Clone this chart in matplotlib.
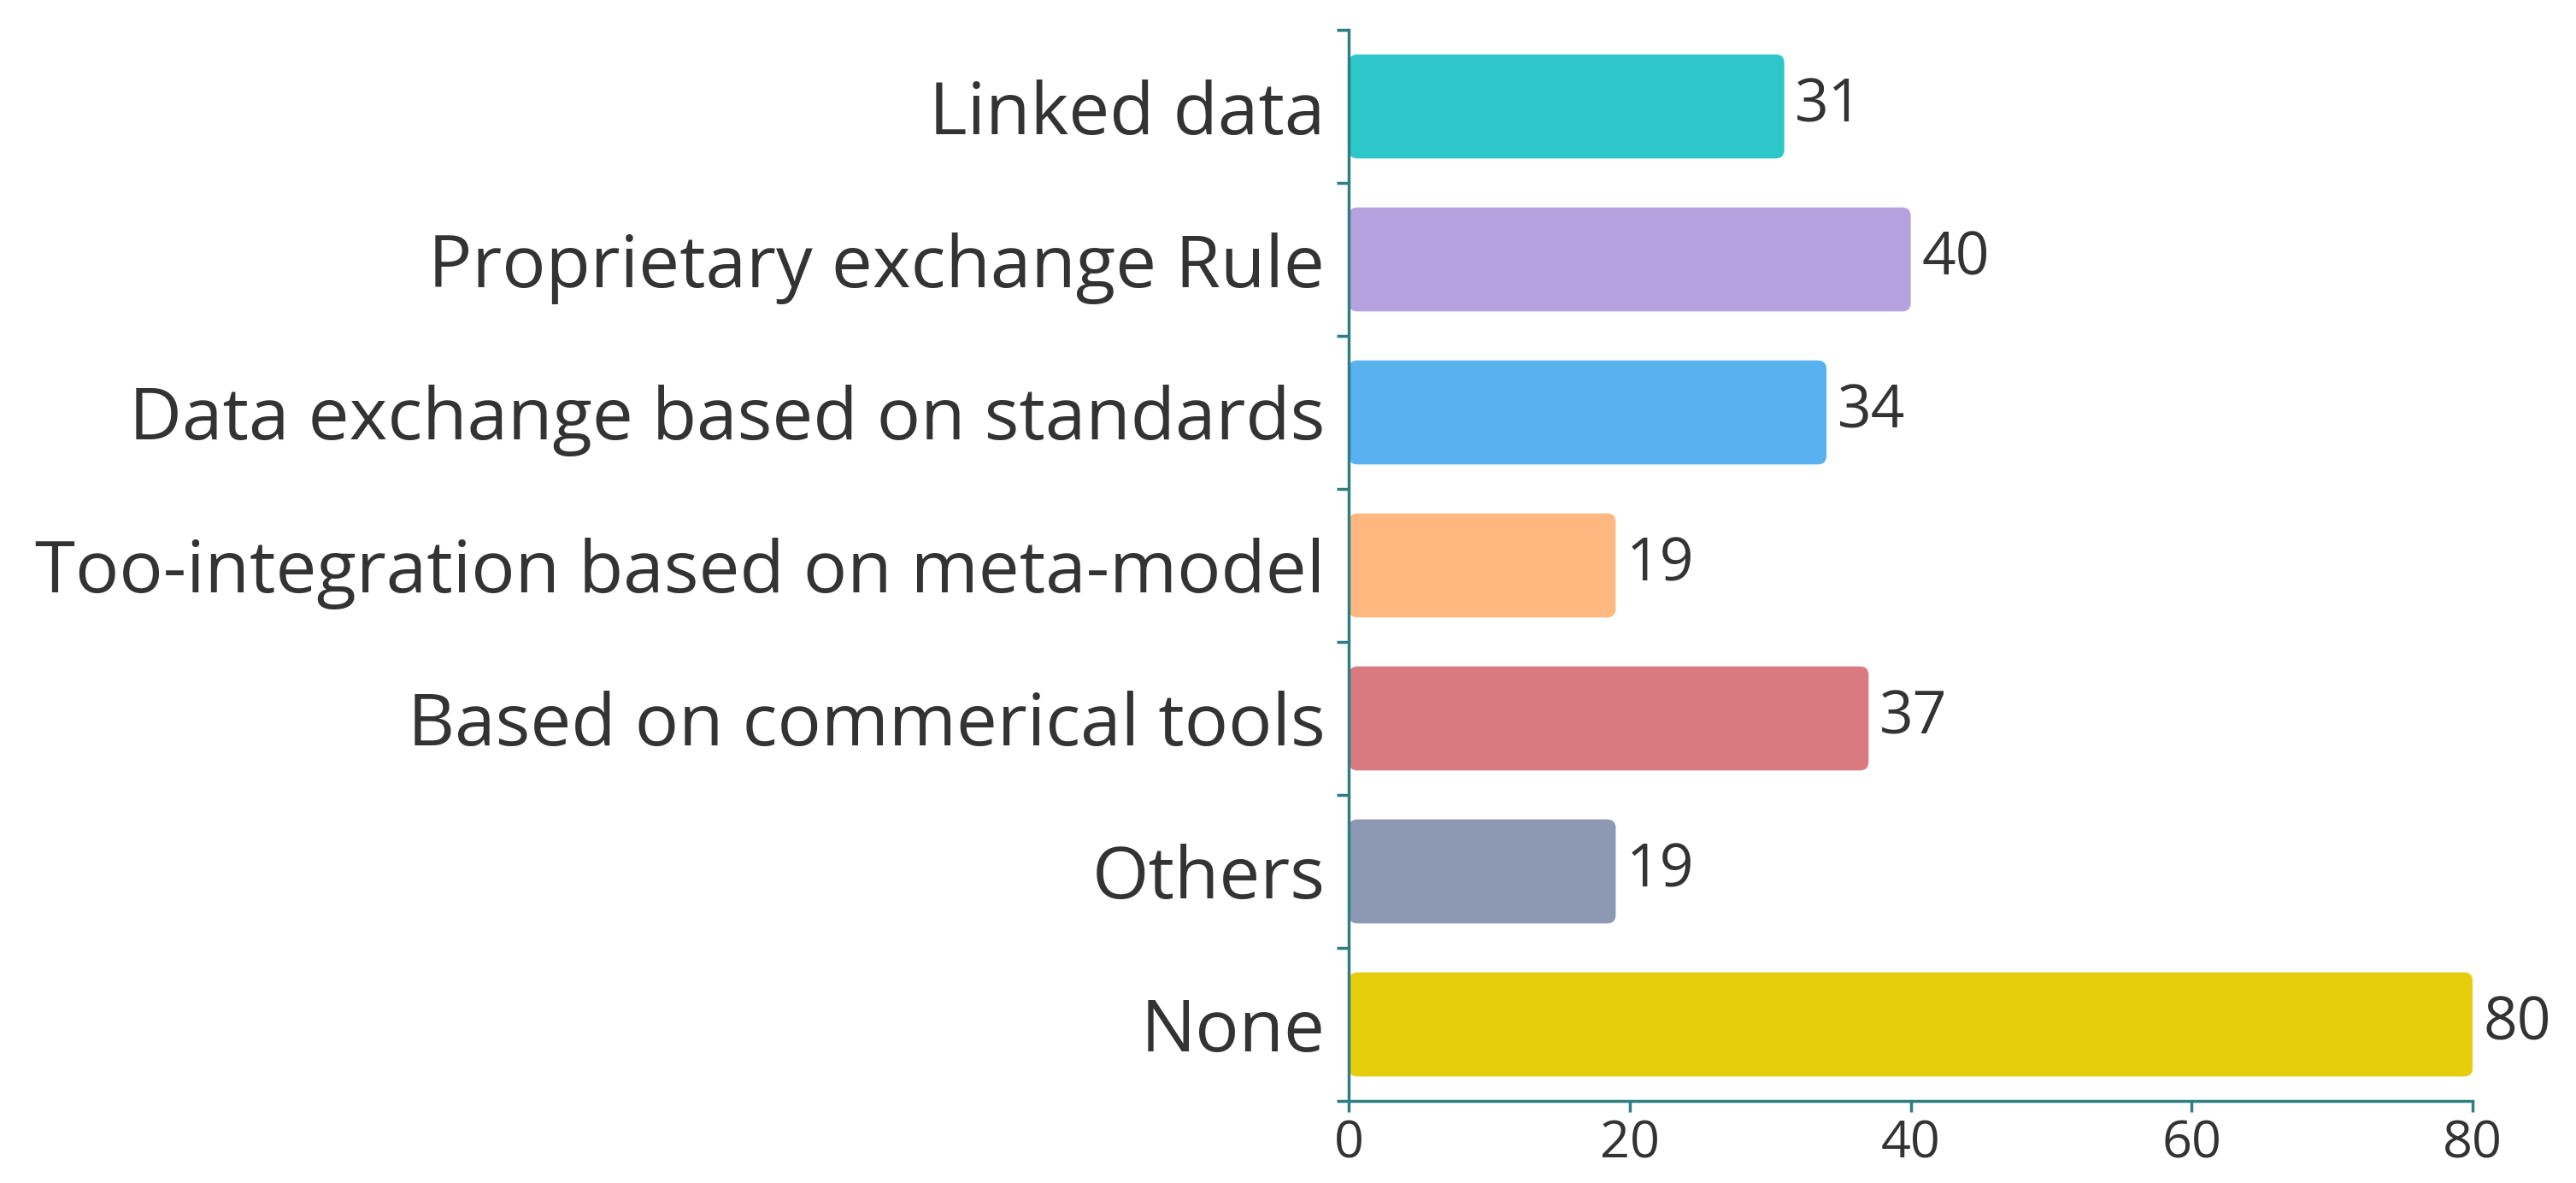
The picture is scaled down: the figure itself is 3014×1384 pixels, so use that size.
import matplotlib

matplotlib.use("Agg")
import matplotlib.pyplot as plt
from matplotlib.patches import FancyBboxPatch

# data, top to bottom as in the chart
categories = [
    "Linked data",
    "Proprietary exchange Rule",
    "Data exchange based on standards",
    "Too-integration based on meta-model",
    "Based on commerical tools",
    "Others",
    "None",
]
counts = [31, 40, 34, 19, 37, 19, 80]
colors = ["#2ec7c9", "#b6a2de", "#5ab1ef", "#ffb980", "#d87a80", "#8d98b3", "#e5cf0d"]
x_ticks = [0, 20, 40, 60, 80]

AXIS_COLOR = "#2f7d85"
TEXT_COLOR = "#333333"

plt.rcParams["font.family"] = ["Open Sans", "DejaVu Sans"]

fig = plt.figure(figsize=(30.14, 13.84), dpi=100)
ax = fig.add_axes([0.5236, 0.0694, 0.4363, 0.9053])

n = len(categories)
ypos = list(range(n))
bar_h = 0.68

ax.set_xlim(0, 80)
ax.set_ylim(n - 0.5, -0.5)

# px per data unit, for round corners that look circular
px_x = 0.4363 * 3014 / 80
px_y = 0.9053 * 1384 / n
radius = 10 / px_x

for y, value, color in zip(ypos, counts, colors):
    box = FancyBboxPatch(
        (0, y - bar_h / 2),
        value,
        bar_h,
        boxstyle=f"round,pad=0,rounding_size={radius}",
        mutation_aspect=px_x / px_y,
        facecolor=color,
        edgecolor="none",
        zorder=2,
    )
    ax.add_patch(box)
    ax.annotate(
        str(value),
        xy=(value, y),
        xytext=(9, 0),
        textcoords="offset points",
        va="center",
        ha="left",
        fontsize=50,
        color=TEXT_COLOR,
        annotation_clip=False,
    )

ax.set_yticks(ypos, categories)
ax.set_yticks([i - 0.5 for i in range(n + 1)], minor=True)
ax.tick_params(axis="y", which="major", length=0, pad=20, labelsize=61.5, labelcolor=TEXT_COLOR)
ax.tick_params(axis="y", which="minor", length=10, width=2.5, color=AXIS_COLOR)

ax.set_xticks(x_ticks)
ax.tick_params(axis="x", length=9, width=2.5, color=AXIS_COLOR, labelsize=44,
               labelcolor=TEXT_COLOR, pad=6)

for side in ("top", "right"):
    ax.spines[side].set_visible(False)
for side in ("left", "bottom"):
    ax.spines[side].set_color(AXIS_COLOR)
    ax.spines[side].set_linewidth(2.5)

fig.savefig("out.png", dpi=100)
